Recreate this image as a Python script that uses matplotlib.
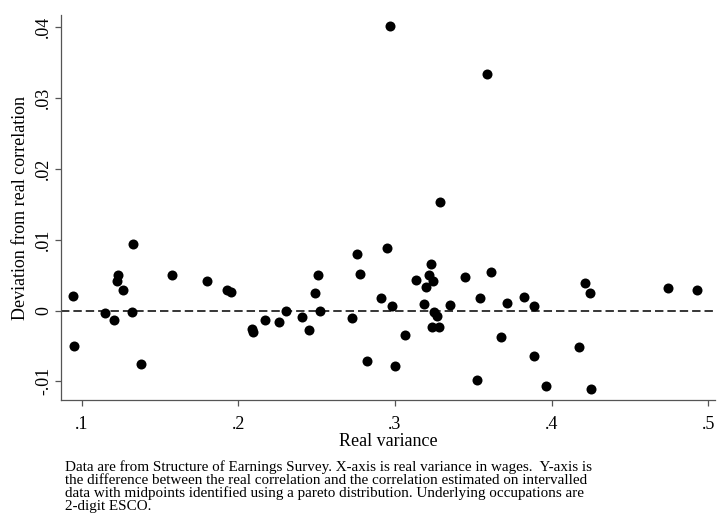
import matplotlib
matplotlib.use("Agg")
import matplotlib.pyplot as plt

plt.rcParams['font.family'] = ['Liberation Serif', 'DejaVu Serif']

# real variance (x) and deviation from real correlation (y)
real_variance = [
    0.0943, 0.0953, 0.1151, 0.1204, 0.1234, 0.1225, 0.1266, 0.1329, 0.1323, 0.1377,
    0.1575, 0.1798, 0.1926, 0.1953, 0.2089, 0.2095, 0.2170, 0.2261, 0.2304, 0.2408,
    0.2451, 0.2489, 0.2510, 0.2523, 0.2726, 0.2757, 0.2778, 0.2823, 0.2913, 0.2951,
    0.2983, 0.3000, 0.2968, 0.3064, 0.3132, 0.3196, 0.3215, 0.3228, 0.3243, 0.3187,
    0.3251, 0.3266, 0.3234, 0.3281, 0.3289, 0.3353, 0.3445, 0.3589, 0.3613, 0.3546,
    0.3713, 0.3822, 0.3889, 0.4215, 0.4243, 0.4741, 0.4930, 0.3675, 0.3887, 0.4177,
    0.3523, 0.3964, 0.4253,
]
deviation = [
    0.00208, -0.00505, -0.00042, -0.00132, 0.00495, 0.00415, 0.00293, 0.00934, -0.00018, -0.00754,
    0.00495, 0.00410, 0.00283, 0.00255, -0.00259, -0.00297, -0.00141, -0.00160, 0.00000, -0.00085,
    -0.00273, 0.00250, 0.00500, 0.00000, -0.00099, 0.00802, 0.00509, -0.00707, 0.00170, 0.00887,
    0.00057, -0.00782, 0.04020, -0.00340, 0.00432, 0.00333, 0.00507, 0.00658, 0.00420, 0.00096,
    -0.00014, -0.00074, -0.00236, -0.00236, 0.01532, 0.00078, 0.00471, 0.03335, 0.00548, 0.00174,
    0.00113, 0.00184, 0.00066, 0.00392, 0.00250, 0.00316, 0.00287, -0.00368, -0.00641, -0.00509,
    -0.00981, -0.01061, -0.01108,
]

x_ticks = [0.1, 0.2, 0.3, 0.4, 0.5]
x_tick_labels = ['.1', '.2', '.3', '.4', '.5']
y_ticks = [-0.01, 0, 0.01, 0.02, 0.03, 0.04]
y_tick_labels = ['-.01', '0', '.01', '.02', '.03', '.04']

note_lines = [
    "Data are from Structure of Earnings Survey. X-axis is real variance in wages.  Y-axis is",
    "the difference between the real correlation and the correlation estimated on intervalled",
    "data with midpoints identified using a pareto distribution. Underlying occupations are",
    "2-digit ESCO.",
]

W, H = 719, 519
fig = plt.figure(figsize=(W / 100, H / 100), dpi=100)
ax = fig.add_axes([61 / W, (H - 400) / H, (715 - 61) / W, (400 - 15) / H])

ax.scatter(real_variance, deviation, s=52, color='black', linewidths=0, zorder=3)
ax.axhline(0, color='black', lw=1.1, ls=(0, (5.5, 2.6)), zorder=2)

ax.set_xlim(0.0868, 0.5043)
ax.set_ylim(-0.01264, 0.04174)

ax.set_xticks(x_ticks)
ax.set_xticklabels(x_tick_labels)
ax.set_yticks(y_ticks)
ax.set_yticklabels(y_tick_labels, rotation=90, va='center')

for side in ['top', 'right']:
    ax.spines[side].set_visible(False)
for side in ['left', 'bottom']:
    ax.spines[side].set_color('#555555')
    ax.spines[side].set_linewidth(0.9)

ax.tick_params(axis='both', direction='out', length=4.5, width=0.9,
               color='#555555', labelsize=13, labelcolor='black')
ax.tick_params(axis='x', pad=7)
ax.tick_params(axis='y', pad=2)

ax.set_xlabel('Real variance', fontsize=13, labelpad=0)
ax.set_ylabel('Deviation from real correlation', fontsize=13, labelpad=4)

baselines = [471, 484, 497, 510]
for line, yb in zip(note_lines, baselines):
    fig.text(65 / W, 1 - yb / H, line, fontsize=10.9, va='baseline', ha='left')

fig.savefig('out.png', dpi=100, facecolor='white')
